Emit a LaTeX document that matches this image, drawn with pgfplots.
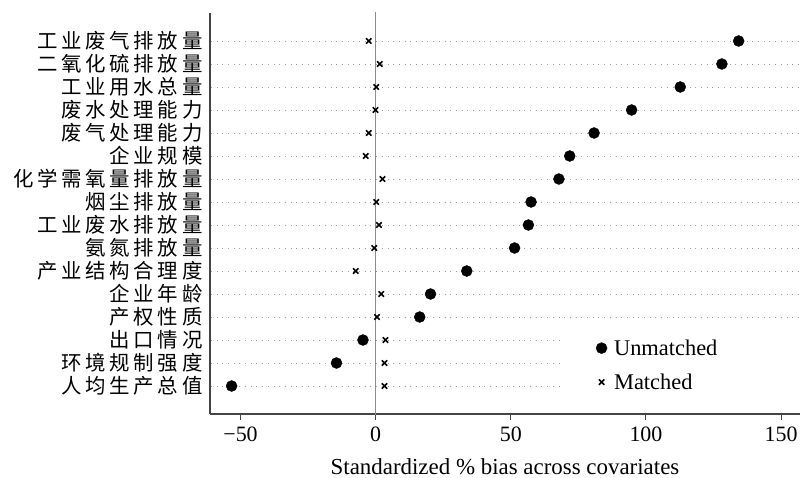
\documentclass[border=0pt]{standalone}
\usepackage{fontspec}
\setmainfont{Liberation Serif}
\newfontfamily\cjk[LetterSpace=18]{Noto Sans CJK SC}
\usepackage{pgfplots}
\pgfplotsset{compat=1.18}

% rows from bottom (1) to top (16): y, unmatched bias, matched bias
\pgfplotstableread{
y unm mat
16 134.3 -2.6
15 128.1 1.5
14 112.7 0.2
13 94.7 -0.1
12 80.8 -2.6
11 71.8 -3.7
10 67.8 2.5
9 57.5 0.2
8 56.5 1.2
7 51.4 -0.5
6 33.7 -7.4
5 20.3 2.1
4 16.3 0.5
3 -4.7 3.6
2 -14.5 3.3
1 -53.3 3.3
}\biastab

\definecolor{axgray}{HTML}{444444}
\definecolor{zerogray}{HTML}{8C8C8C}
\definecolor{dotgray}{HTML}{A0A0A0}

\begin{document}
\begin{tikzpicture}
\useasboundingbox (-210bp,-64bp) rectangle (592bp,414bp);
\begin{axis}[
    scale only axis,
    width=590bp, height=401bp,
    xmin=-61.3, xmax=157,
    ymin=-0.217, ymax=17.217,
    axis x line*=bottom, axis y line*=left,
    axis line style={axgray, line width=1.2bp, -},
    xtick={-50,0,50,100,150},
    xticklabels={−50,0,50,100,150},
    xtick align=outside,
    major tick length=6bp,
    xtick style={axgray, line width=1bp},
    xticklabel style={font=\fontsize{22}{26}\selectfont, yshift=-3bp},
    ytick={1,...,16},
    yticklabels={人均生产总值,环境规制强度,出口情况,产权性质,企业年龄,产业结构合理度,氨氮排放量,工业废水排放量,烟尘排放量,化学需氧量排放量,企业规模,废气处理能力,废水处理能力,工业用水总量,二氧化硫排放量,工业废气排放量},
    yticklabel style={font=\cjk\fontsize{20.5}{24}\selectfont, anchor=east, xshift=-4bp},
    ytick style={draw=none},
    xlabel={Standardized \% bias across covariates},
    xlabel style={font=\fontsize{23}{27}\selectfont, yshift=-10bp},
    legend style={draw=none, fill=none, at={(0.649,0.196)}, anchor=north west,
        font=\fontsize{22.5}{26}\selectfont, row sep=13bp,
        nodes={inner xsep=7bp}},
    legend cell align=left,
    legend image code/.code={\draw[#1] plot coordinates {(6bp,0bp)};},
    clip=true,
]
% dotted row guides (the three lowest stop at the legend)
\pgfplotsinvokeforeach{4,...,16}{
  \addplot[dotgray, line width=0.9bp, dash pattern=on 0.9bp off 4.8bp, forget plot]
    coordinates {(-61,#1) (157,#1)};
}
\pgfplotsinvokeforeach{1,2,3}{
  \addplot[dotgray, line width=0.9bp, dash pattern=on 0.9bp off 4.8bp, forget plot]
    coordinates {(-61,#1) (68,#1)};
}
\addplot[zerogray, line width=1.6bp, forget plot] coordinates {(0,-1) (0,18)};

\addplot[only marks, mark=*, mark size=5.5bp, black] table[x=unm, y=y] {\biastab};
\addlegendentry{Unmatched}
\addplot[only marks, mark=x, mark size=3.8bp, black, line width=1.6bp] table[x=mat, y=y] {\biastab};
\addlegendentry{Matched}
\end{axis}
\end{tikzpicture}
\end{document}
